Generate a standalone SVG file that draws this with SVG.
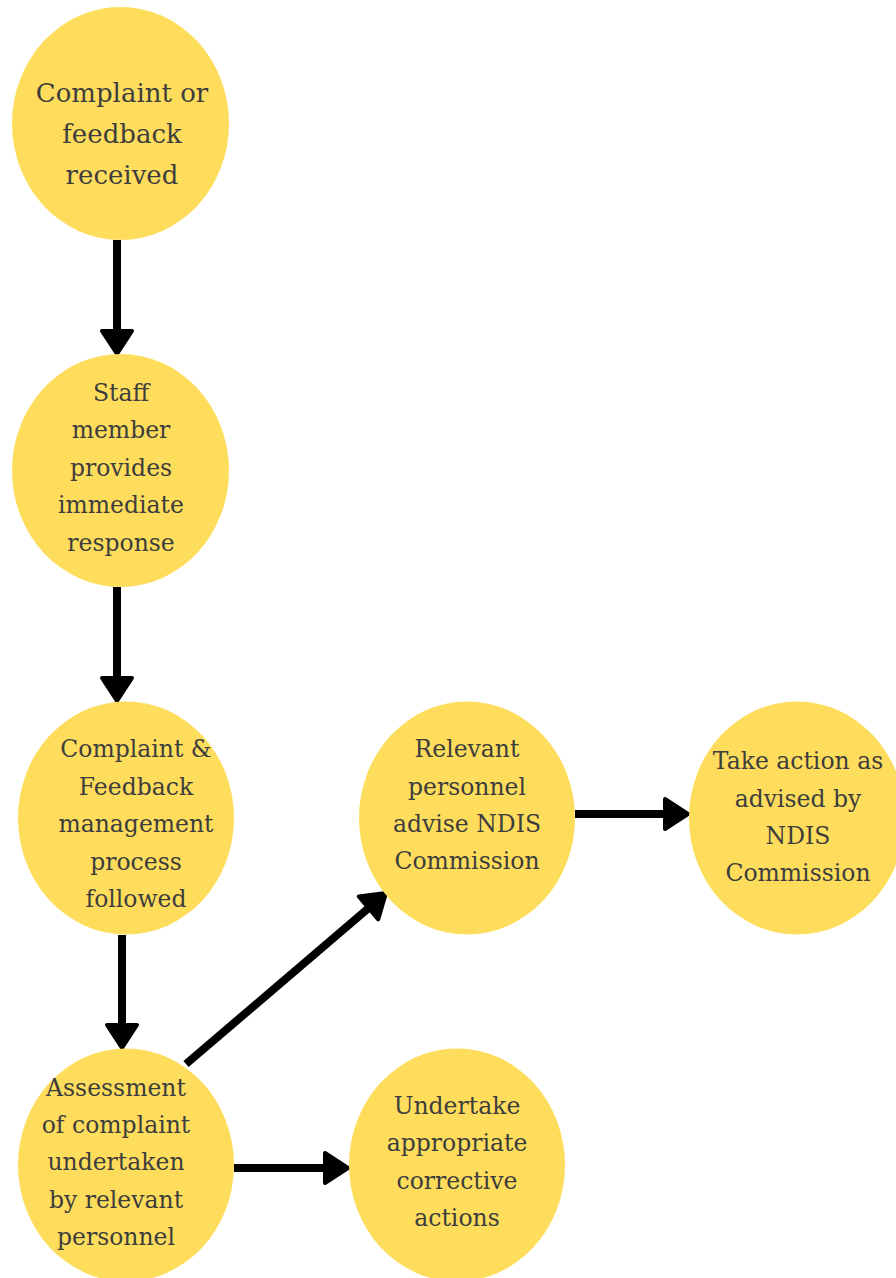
<svg xmlns="http://www.w3.org/2000/svg" width="896" height="1278" viewBox="0 0 896 1278">
<style>
.n{fill:#FFDD5C}
.t{font-family:"DejaVu Serif","Liberation Serif",serif;fill:#3d3d3d;text-anchor:middle;font-size:23.5px}
.big{font-size:26px}
.c{stroke:#000;stroke-width:8;fill:none}
.h{fill:#000;stroke:#000;stroke-width:4;stroke-linejoin:round}
</style>
<defs>
<polygon id="ah" class="h" points="0,0 -23,-15 -23,15"/>
</defs>
<rect width="896" height="1278" fill="#fff"/>
<g id="connectors">
<line class="c" x1="117" y1="240" x2="117" y2="334"/>
<use href="#ah" transform="translate(117,354) rotate(90)"/>
<line class="c" x1="117" y1="587" x2="117" y2="681"/>
<use href="#ah" transform="translate(117,701) rotate(90)"/>
<line class="c" x1="122" y1="935" x2="122" y2="1028"/>
<use href="#ah" transform="translate(122,1048) rotate(90)"/>
<line class="c" x1="186" y1="1064" x2="371" y2="906"/>
<use href="#ah" transform="translate(386,893) rotate(-40.4)"/>
<line class="c" x1="575" y1="814" x2="668" y2="814"/>
<use href="#ah" transform="translate(688,814)"/>
<line class="c" x1="234" y1="1168" x2="328" y2="1168"/>
<use href="#ah" transform="translate(348,1168)"/>
</g>
<g id="n1">
<ellipse class="n" cx="120.5" cy="123.5" rx="108.5" ry="116.5"/>
<text class="t big"><tspan x="122" y="102">Complaint or</tspan><tspan x="122" y="143">feedback</tspan><tspan x="122" y="184">received</tspan></text>
</g>
<g id="n2">
<ellipse class="n" cx="120.5" cy="470.5" rx="108.5" ry="116.5"/>
<text class="t"><tspan x="121" y="401">Staff</tspan><tspan x="121" y="438">member</tspan><tspan x="121" y="476">provides</tspan><tspan x="121" y="513">immediate</tspan><tspan x="121" y="551">response</tspan></text>
</g>
<g id="n3">
<ellipse class="n" cx="126" cy="818" rx="108" ry="116.5"/>
<text class="t"><tspan x="136" y="757">Complaint &amp;</tspan><tspan x="136" y="795">Feedback</tspan><tspan x="136" y="832">management</tspan><tspan x="136" y="870">process</tspan><tspan x="136" y="907">followed</tspan></text>
</g>
<g id="n4">
<ellipse class="n" cx="126" cy="1165" rx="108" ry="116.5"/>
<text class="t"><tspan x="116" y="1096">Assessment</tspan><tspan x="116" y="1133">of complaint</tspan><tspan x="116" y="1170">undertaken</tspan><tspan x="116" y="1208">by relevant</tspan><tspan x="116" y="1245">personnel</tspan></text>
</g>
<g id="n5">
<ellipse class="n" cx="467" cy="818" rx="108" ry="116.5"/>
<text class="t"><tspan x="467" y="757">Relevant</tspan><tspan x="467" y="795">personnel</tspan><tspan x="467" y="832">advise NDIS</tspan><tspan x="467" y="869">Commission</tspan></text>
</g>
<g id="n6">
<ellipse class="n" cx="797" cy="818" rx="108" ry="116.5"/>
<text class="t"><tspan x="798" y="769">Take action as</tspan><tspan x="798" y="807">advised by</tspan><tspan x="798" y="844">NDIS</tspan><tspan x="798" y="881">Commission</tspan></text>
</g>
<g id="n7">
<ellipse class="n" cx="457" cy="1165" rx="108" ry="116.5"/>
<text class="t"><tspan x="457" y="1114">Undertake</tspan><tspan x="457" y="1151">appropriate</tspan><tspan x="457" y="1189">corrective</tspan><tspan x="457" y="1226">actions</tspan></text>
</g>
</svg>
